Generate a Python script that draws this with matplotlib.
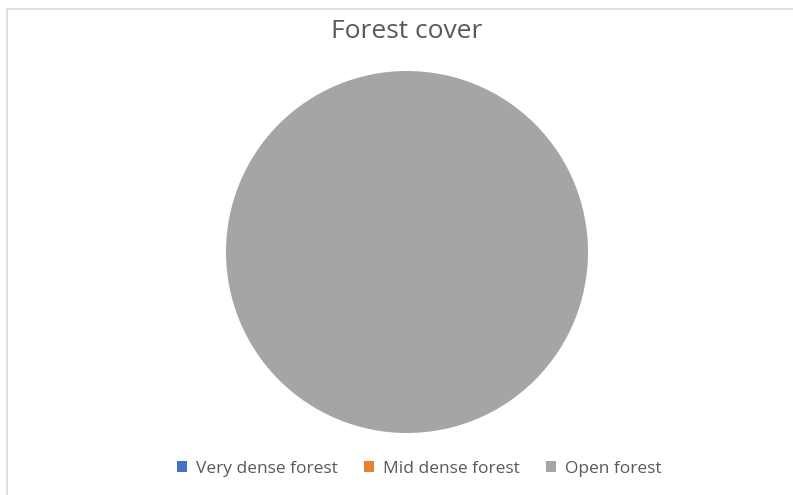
import matplotlib.pyplot as plt
from matplotlib.patches import Rectangle

# Datos del gráfico
categorias = ['Very dense forest', 'Mid dense forest', 'Open forest']
valores = [0, 0, 100]
colores = ['#4472C4', '#ED7D31', '#A5A5A5']

plt.rcParams['font.family'] = ['Open Sans', 'DejaVu Sans']

fig = plt.figure(figsize=(7.93, 4.95), dpi=100)
W, H = 793, 495

# Borde del área del gráfico (recortado a la derecha y abajo)
fig.patches.append(Rectangle((7 / W, -0.1), 1.2, (H - 9) / H + 0.1,
                             transform=fig.transFigure, fill=False,
                             edgecolor='#D9D9D9', linewidth=1.2))

# Pastel: centro (407, 252), radio 181 px
cx, cy, r = 407, 252, 181
ax = fig.add_axes([(cx - r) / W, (H - cy - r) / H, 2 * r / W, 2 * r / H])
wedges, _ = ax.pie(valores, colors=colores, startangle=90, counterclock=False,
                   radius=1.0, wedgeprops={'linewidth': 0})
ax.set_xlim(-1, 1)
ax.set_ylim(-1, 1)
ax.set_aspect('equal')
ax.axis('off')

fig.text(cx / W, 1 - 31 / H, 'Forest cover', ha='center', va='center',
         fontsize=19, color='#595959')

leg = fig.legend(wedges, categorias, loc='center', bbox_to_anchor=(419 / W, 1 - 469 / H),
                 ncol=3, frameon=False, fontsize=12.5, handlelength=0.6,
                 handleheight=0.6, handletextpad=0.5, columnspacing=1.5)
for t in leg.get_texts():
    t.set_color('#595959')

fig.savefig('out.png', dpi=100)
